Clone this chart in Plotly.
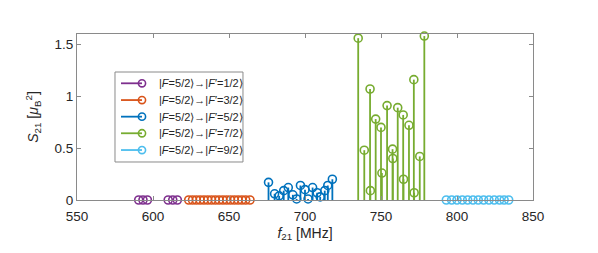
import plotly.graph_objects as go

# ---- data ----
labels = ["|<i>F</i>=5/2⟩→|<i>F</i>′=1/2⟩",
          "|<i>F</i>=5/2⟩→|<i>F</i>′=3/2⟩",
          "|<i>F</i>=5/2⟩→|<i>F</i>′=5/2⟩",
          "|<i>F</i>=5/2⟩→|<i>F</i>′=7/2⟩",
          "|<i>F</i>=5/2⟩→|<i>F</i>′=9/2⟩"]

f_12 = [590.6, 593.4, 596.3, 610.0, 613.0, 616.0]
s_12 = [0, 0, 0, 0, 0, 0]

f_32 = [623.5, 626.0, 628.5, 631.0, 633.5, 636.0, 638.5, 641.0, 643.5,
        646.0, 648.5, 651.0, 653.5, 656.0, 658.5, 661.0, 663.8]
s_32 = [0] * 17

f_52 = [676.0, 680.0, 683.0, 686.0, 689.0, 692.0, 694.5, 697.0, 700.0,
        702.0, 705.0, 708.0, 710.0, 713.0, 715.0, 718.0]
s_52 = [0.17, 0.06, 0.04, 0.09, 0.12, 0.05, 0.01, 0.14, 0.10,
        0.01, 0.12, 0.07, 0.03, 0.09, 0.14, 0.20]

f_72 = [735.0, 739.0, 742.8, 743.0, 746.5, 750.0, 750.6, 754.0, 757.6,
        757.8, 761.0, 764.6, 764.8, 768.4, 771.6, 771.8, 775.5, 778.5]
s_72 = [1.56, 0.48, 1.07, 0.09, 0.78, 0.70, 0.26, 0.91, 0.49,
        0.40, 0.89, 0.82, 0.20, 0.72, 1.16, 0.07, 0.42, 1.58]

f_92 = [793.0, 796.5, 800.0, 803.5, 807.0, 810.5, 814.0, 817.5, 821.0,
        824.5, 828.0, 831.0, 834.0]
s_92 = [0] * 13

colors = ["#7E2F8E", "#D95319", "#0072BD", "#77AC30", "#4DBEEE"]

series = [(f_12, s_12), (f_32, s_32), (f_52, s_52), (f_72, s_72), (f_92, s_92)]

fig = go.Figure()
for (fx, sy), col, lab in zip(series, colors, labels):
    xs, ys = [], []
    for a, b in zip(fx, sy):
        xs += [a, a, None]
        ys += [0, b, None]
    fig.add_trace(go.Scatter(x=xs, y=ys, mode="lines",
                             line=dict(color=col, width=1.8),
                             showlegend=False, hoverinfo="skip"))
    fig.add_trace(go.Scatter(x=fx, y=sy, mode="markers", cliponaxis=False,
                             name=lab,
                             marker=dict(symbol="circle-open", size=8,
                                         color=col, line=dict(width=1.6, color=col)),
                             showlegend=False))

# ---- legend box (MATLAB-style), drawn in paper coordinates ----
L_X0, L_X1, L_Y0, L_Y1 = 0.0833, 0.364, 0.229, 0.771
row_y = [0.703, 0.602, 0.502, 0.402, 0.301]
line_x0, line_x1, text_x = 0.0965, 0.1425, 0.176

shapes = [dict(type="rect", xref="paper", yref="paper", x0=L_X0, x1=L_X1, y0=L_Y0, y1=L_Y1,
               line=dict(color="#8a8a8a", width=1), fillcolor="white", layer="above")]
annotations = []
for col, lab, ry in zip(colors, labels, row_y):
    shapes.append(dict(type="line", xref="paper", yref="paper", x0=line_x0, x1=line_x1,
                       y0=ry, y1=ry, line=dict(color=col, width=1.8), layer="above"))
    shapes.append(dict(type="circle", xref="paper", yref="paper",
                       xsizemode="pixel", ysizemode="pixel",
                       xanchor=line_x1, yanchor=ry, x0=-3.6, x1=3.6, y0=-3.6, y1=3.6,
                       line=dict(color=col, width=1.6), layer="above"))
    annotations.append(dict(xref="paper", yref="paper", x=text_x, y=ry, text=lab,
                            showarrow=False, xanchor="left", yanchor="middle",
                            font=dict(size=11, color="#262626",
                                      family="Liberation Sans, Arial")))

axis_common = dict(showline=True, linecolor="#8a8a8a", linewidth=1,
                   mirror="ticks", ticks="inside", ticklen=4, tickcolor="#8a8a8a",
                   showgrid=False, zeroline=False,
                   tickfont=dict(family="Liberation Sans, Arial", size=13.5, color="#262626"))

fig.update_layout(
    width=598, height=253,
    margin=dict(l=69, r=73, t=26, b=61),
    plot_bgcolor="white", paper_bgcolor="white",
    font=dict(family="Liberation Sans, Arial", color="#262626"),
    showlegend=False,
    xaxis=dict(range=[550, 850], tickvals=[550, 600, 650, 700, 750, 800, 850],
               ticklabelstandoff=4,
               title=dict(text="<i>f</i><sub>21</sub> [MHz]", standoff=4,
                          font=dict(size=14)),
               **axis_common),
    yaxis=dict(range=[0, 1.6], tickvals=[0, 0.5, 1, 1.5], ticktext=["0", "0.5", "1", "1.5"],
               title=dict(text="<i>S</i><sub>21</sub> [<i>μ</i><sub>B</sub><sup>2</sup>]",
                          standoff=12, font=dict(size=14)),
               **axis_common),
    shapes=shapes,
    annotations=annotations,
)

fig.write_html("out.html")
